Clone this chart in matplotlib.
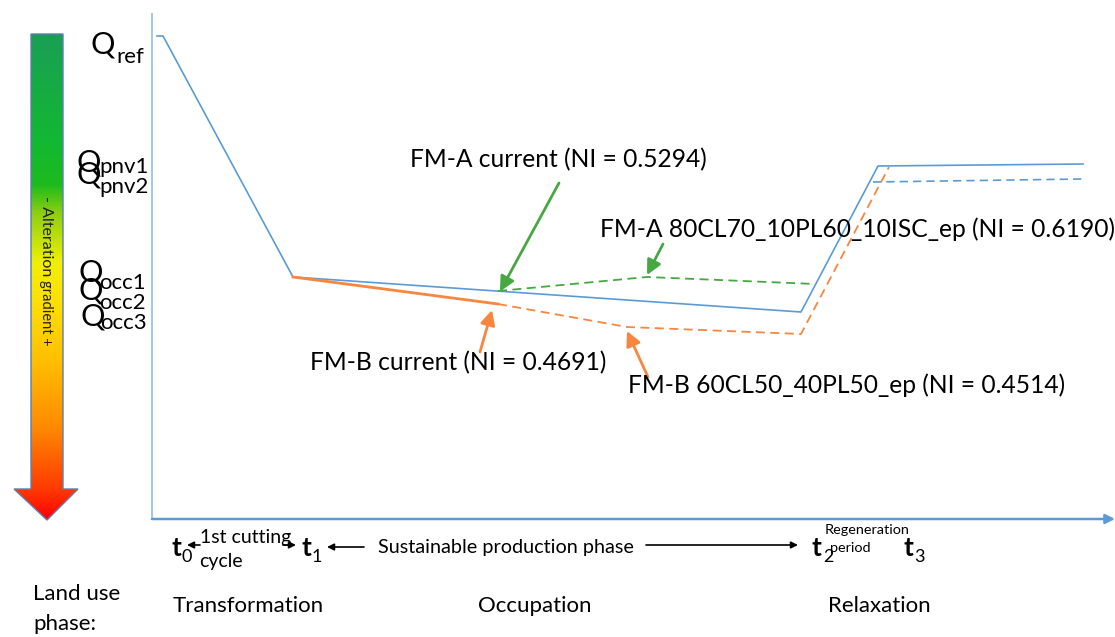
import numpy as np
import matplotlib
matplotlib.use("Agg")
import matplotlib.pyplot as plt
from matplotlib.colors import LinearSegmentedColormap
from matplotlib.patches import Polygon

plt.rcParams['font.family'] = ['Lato', 'DejaVu Sans']

# ---- data (time units, quality units) ----
fma_cur_x = [0.5, 1.1, 14.1, 64.9, 72.6, 93.1]
fma_cur_y = [48.3, 48.3, 24.2, 20.7, 35.3, 35.5]
fma_alt_relax_x = [72.1, 93.1]
fma_alt_relax_y = [33.7, 34.0]
fma_alt_x = [34.6, 49.5, 66.3]
fma_alt_y = [22.8, 24.2, 23.5]
fmb_cur_x = [14.1, 34.6]
fmb_cur_y = [24.2, 21.5]
fmb_alt_x = [34.6, 47.5, 64.9, 73.7]
fmb_alt_y = [21.5, 19.2, 18.5, 35.2]

q_labels = ["ref", "pnv1", "pnv2", "occ1", "occ2", "occ3"]
phase_labels = ["Transformation", "Occupation", "Relaxation"]

BLUE = "#5b9bd5"
ORANGE = "#f7863f"
GREEN = "#45a843"

W, H = 1115, 637
fig = plt.figure(figsize=(W / 100, H / 100), dpi=100)

# main axes: pixel box x 152..1115, y 14..519
ax = fig.add_axes([152 / W, (H - 519) / H, (W - 152) / W, (519 - 14) / H])
ax.set_xlim(0, 96.3)
ax.set_ylim(0, 50.5)
for s in ["top", "right", "bottom"]:
    ax.spines[s].set_visible(False)
ax.spines["left"].set_color("#a8c8e8")
ax.spines["left"].set_linewidth(1.5)
ax.set_xticks([])
ax.set_yticks([])
ax.patch.set_alpha(0)
ax.annotate("", xy=(1.0, 0.0), xytext=(0.0, 0.0), xycoords="axes fraction",
            arrowprops=dict(arrowstyle="-|>", color=BLUE, lw=1.8, mutation_scale=14,
                            shrinkA=0, shrinkB=0), annotation_clip=False)

ax.plot(fma_cur_x, fma_cur_y, color=BLUE, lw=1.2)
ax.plot(fma_alt_relax_x, fma_alt_relax_y, color=BLUE, lw=1.2, ls=(0, (5, 3)))
ax.plot(fma_alt_x, fma_alt_y, color=GREEN, lw=1.3, ls=(0, (5, 3)))
ax.plot(fmb_cur_x, fmb_cur_y, color=ORANGE, lw=2.0)
ax.plot(fmb_alt_x, fmb_alt_y, color=ORANGE, lw=1.3, ls=(0, (5, 3)))

def arr(tip, tail, color):
    ax.annotate("", xy=tip, xytext=tail,
                arrowprops=dict(arrowstyle="-|>", color=color, lw=2.0, mutation_scale=22,
                                shrinkA=0, shrinkB=0))

arr((fma_alt_x[0] + 0.2, fma_alt_y[0] - 0.05), (40.7, 33.6), GREEN)
arr((fma_alt_x[1], fma_alt_y[1] + 0.2), (51.1, 27.5), GREEN)
arr((fmb_cur_x[1] - 0.6, fmb_cur_y[1] - 0.6), (32.8, 16.7), ORANGE)
arr((fmb_alt_x[1], fmb_alt_y[1] - 0.4), (49.6, 14.2), ORANGE)

# overlay axes in pixel coordinates for annotations
ov = fig.add_axes([0, 0, 1, 1])
ov.set_xlim(0, W)
ov.set_ylim(H, 0)
ov.axis("off")
ov.patch.set_alpha(0)

# gradient arrow
poly = [(31, 34), (63, 34), (63, 489), (78, 489), (47, 520), (14, 489), (31, 489)]
cmap = LinearSegmentedColormap.from_list("alt", [
    (0.0, "#1a9f55"), (0.22, "#12b832"), (0.31, "#1ebb1e"), (0.37, "#8fd010"),
    (0.47, "#f0f000"), (0.55, "#ffe000"), (0.67, "#ffc000"), (0.81, "#ff8a00"),
    (0.94, "#ff3800"), (1.0, "#ff0000")])
grad = np.linspace(0, 1, 256).reshape(-1, 1)
im = ov.imshow(grad, cmap=cmap, extent=(14, 78, 520, 34), aspect="auto", zorder=2)
pp = Polygon(poly, closed=True, facecolor="none", edgecolor="#5a7fb0", lw=1.0, zorder=3)
ov.add_patch(pp)
im.set_clip_path(pp)
ov.text(46, 236, "- Alteration", rotation=-90, ha="center", va="center", fontsize=11.5, color="#222222", zorder=4)
ov.text(46, 313, "gradient +", rotation=-90, ha="center", va="center", fontsize=10.5, color="#222222", zorder=4)

# Q labels
q_pos = [(91, 44, 57, 116), (77, 162, 167, 99), (77, 175, 187, 99),
         (79, 272, 283, 99), (79, 291, 303, 99), (80, 316, 323, 100)]
for lab, (qx, qy, sy, sx) in zip(q_labels, q_pos):
    ov.text(qx, qy, "Q", fontsize=22, ha="left", va="center", color="black")
    ov.text(sx, sy, lab, fontsize=16, ha="left", va="center", color="black")

# annotation texts
FS = 17.7
ov.text(558, 160, "FM-A current (NI = 0.5294)", fontsize=FS, ha="center", va="center")
ov.text(600, 229, "FM-A 80CL70_10PL60_10ISC_ep (NI = 0.6190)", fontsize=FS, ha="left", va="center")
ov.text(310, 363, "FM-B current (NI = 0.4691)", fontsize=FS, ha="left", va="center")
ov.text(628, 385, "FM-B 60CL50_40PL50_ep (NI = 0.4514)", fontsize=FS, ha="left", va="center")

# time labels
for tx, sub in [(171, "0"), (301, "1"), (812, "2"), (903, "3")]:
    ov.text(tx, 548, "t", fontsize=19, fontweight="bold", ha="left", va="center")
    ov.text(tx + 11, 557, sub, fontsize=13, ha="left", va="center")
ov.text(200, 537, "1st cutting", fontsize=14, ha="left", va="center")
ov.text(199, 562, "cycle", fontsize=14, ha="left", va="center")
ov.annotate("", xy=(187, 545), xytext=(200, 545),
            arrowprops=dict(arrowstyle="-|>", color="black", lw=1.2, mutation_scale=10, shrinkA=0, shrinkB=0))
ov.annotate("", xy=(296, 545), xytext=(283, 545),
            arrowprops=dict(arrowstyle="-|>", color="black", lw=1.2, mutation_scale=10, shrinkA=0, shrinkB=0))
ov.annotate("", xy=(327, 547), xytext=(364, 547),
            arrowprops=dict(arrowstyle="-|>", color="black", lw=1.2, mutation_scale=10, shrinkA=0, shrinkB=0))
ov.text(378, 548, "Sustainable production phase", fontsize=14.3, ha="left", va="center")
ov.annotate("", xy=(798, 545), xytext=(646, 545),
            arrowprops=dict(arrowstyle="-|>", color="black", lw=1.2, mutation_scale=10, shrinkA=0, shrinkB=0))
ov.text(825, 530, "Regeneration", fontsize=10.4, ha="left", va="center")
ov.text(830, 548, "period", fontsize=10.4, ha="left", va="center")

# phase labels
for lab, px in zip(phase_labels, [173, 478, 828]):
    ov.text(px, 606, lab, fontsize=16, ha="left", va="center")
ov.text(33, 594, "Land use", fontsize=16, ha="left", va="center")
ov.text(33, 624, "phase:", fontsize=16, ha="left", va="center")

fig.savefig("out.png", dpi=100)
